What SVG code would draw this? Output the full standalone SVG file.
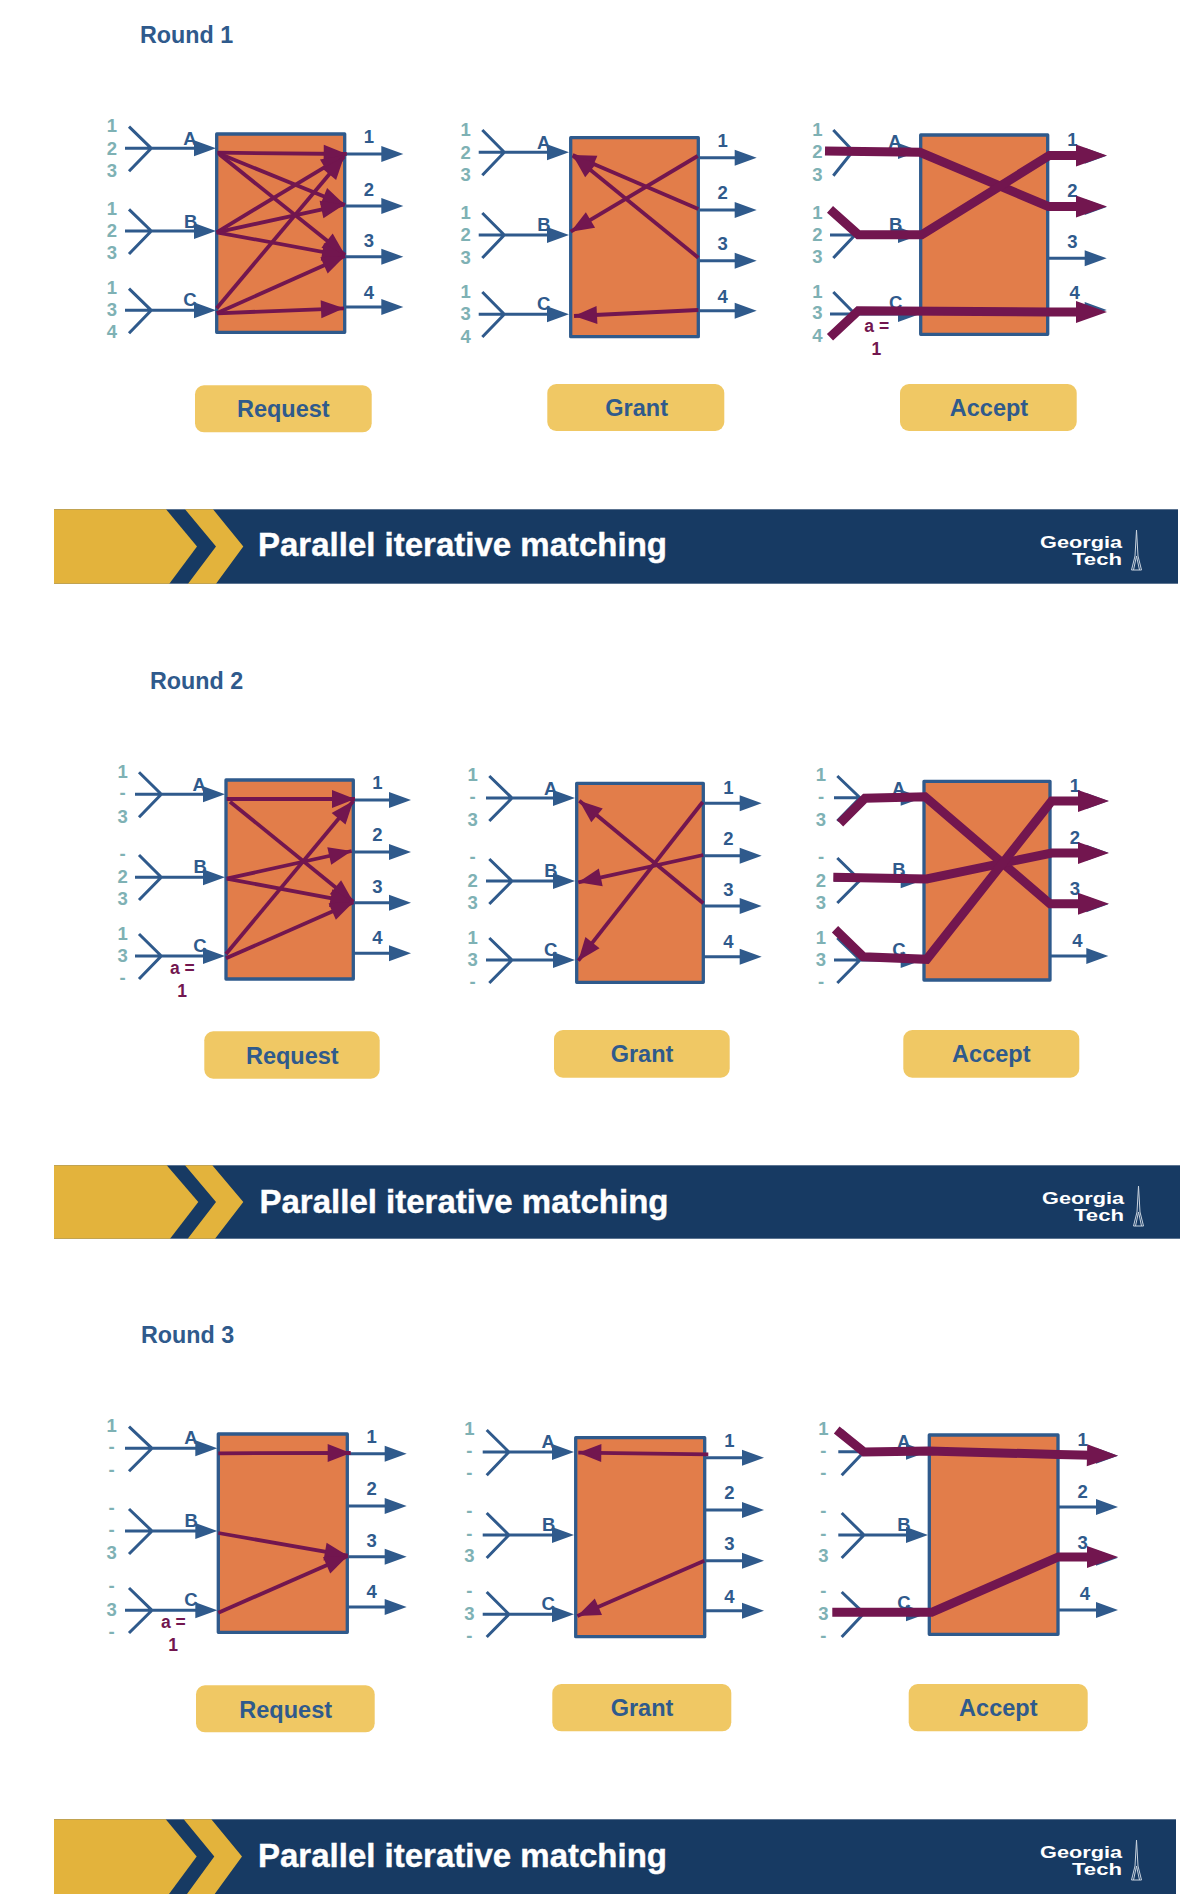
<svg xmlns="http://www.w3.org/2000/svg" width="1204" height="1894" viewBox="0 0 1204 1894">
<style>
text{font-family:"Liberation Sans",Arial,sans-serif;font-weight:700}
.box{fill:#E27D4A;stroke:#2F5A8C;stroke-width:3.3;stroke-linejoin:round}
.btn{fill:#F0C864}
.bl{fill:#2F5A8C;font-size:18.5px;text-anchor:middle}
.te{fill:#7EB1B4;font-size:18.5px;text-anchor:middle}
.pu{fill:#72164F;font-size:17.5px;text-anchor:middle}
.bt{fill:#2F5A8C;font-size:23.5px;text-anchor:middle}
.ti{fill:#2F5A8C;font-size:23.3px}
.bn{fill:#173A63}
.gd{fill:#E3B33C}
.ht{fill:#fff;stroke:#fff;stroke-width:.4;font-size:33px}
.lg{fill:#fff;font-size:17px}
.tw{fill:none;stroke:#C9D3DF;stroke-width:1}
.wa{fill:none;stroke:#2F5A8C;stroke-width:3;marker-end:url(#mb)}
.p{fill:none;stroke:#72164F;stroke-width:3.8;marker-end:url(#mp)}
.k{fill:none;stroke:#72164F;stroke-width:9;stroke-linejoin:miter;marker-end:url(#mk)}
</style>
<defs>
<marker id="mb" markerUnits="userSpaceOnUse" markerWidth="24" markerHeight="18" refX="16" refY="8" orient="auto" overflow="visible"><path d="M0 0L22 8L0 16z" fill="#2F5A8C"/></marker>
<marker id="mp" markerUnits="userSpaceOnUse" markerWidth="24" markerHeight="18" refX="23" refY="9" orient="auto" overflow="visible"><path d="M0 0L23 9L0 18z" fill="#72164F"/></marker>
<marker id="mk" markerUnits="userSpaceOnUse" markerWidth="32" markerHeight="22" refX="15" refY="11" orient="auto" overflow="visible"><path d="M0 0L31 11L0 22z" fill="#72164F"/></marker>
</defs>
<rect width="1204" height="1894" fill="#fff"/>

<g id="title-round-1"><text class="ti" x="140" y="43.3">Round 1</text></g>
<g id="title-round-2"><text class="ti" x="150" y="689.3">Round 2</text></g>
<g id="title-round-3"><text class="ti" x="141" y="1343.3">Round 3</text></g>

<g id="r1-request">
<rect class="box" x="216.7" y="134" width="128" height="198.3"/>
<text class="te" x="112" y="131.6">1</text><text class="te" x="112" y="154.6">2</text><text class="te" x="112" y="176.6">3</text>
<text class="te" x="112" y="214.6">1</text><text class="te" x="112" y="236.6">2</text><text class="te" x="112" y="258.6">3</text>
<text class="te" x="112" y="293.6">1</text><text class="te" x="112" y="315.6">3</text><text class="te" x="112" y="337.6">4</text>
<text class="bl" x="190" y="144.6">A</text><text class="bl" x="190.7" y="227.6">B</text><text class="bl" x="190" y="305.6">C</text>
<text class="bl" x="369" y="143.3">1</text><text class="bl" x="369" y="195.6">2</text><text class="bl" x="369" y="246.6">3</text><text class="bl" x="369" y="298.6">4</text>
</g>
<g id="r1-request-button"><rect class="btn" x="195" y="385.3" width="176.7" height="47" rx="9"/><text class="bt" x="283.3" y="417.3">Request</text></g>

<g id="r1-grant">
<rect class="box" x="570.7" y="137.7" width="127.6" height="199"/>
<text class="te" x="465.7" y="136.3">1</text><text class="te" x="465.7" y="158.6">2</text><text class="te" x="465.7" y="180.9">3</text>
<text class="te" x="465.7" y="218.9">1</text><text class="te" x="465.7" y="241.3">2</text><text class="te" x="465.7" y="263.6">3</text>
<text class="te" x="465.7" y="297.9">1</text><text class="te" x="465.7" y="319.9">3</text><text class="te" x="465.7" y="342.6">4</text>
<text class="bl" x="543.7" y="148.9">A</text><text class="bl" x="544" y="230.9">B</text><text class="bl" x="543.7" y="310.3">C</text>
<text class="bl" x="722.7" y="147.3">1</text><text class="bl" x="722.7" y="199.3">2</text><text class="bl" x="722.7" y="250.3">3</text><text class="bl" x="722.7" y="302.6">4</text>
</g>
<g id="r1-grant-button"><rect class="btn" x="547.3" y="384" width="177" height="47" rx="9"/><text class="bt" x="636.7" y="416">Grant</text></g>

<g id="r1-accept">
<rect class="box" x="920.7" y="135" width="127" height="199.3"/>
<text class="te" x="817.3" y="135.9">1</text><text class="te" x="817.3" y="158.3">2</text><text class="te" x="817.3" y="180.6">3</text>
<text class="te" x="817.3" y="218.6">1</text><text class="te" x="817.3" y="240.9">2</text><text class="te" x="817.3" y="263.3">3</text>
<text class="te" x="817.3" y="297.6">1</text><text class="te" x="817.3" y="319.3">3</text><text class="te" x="817.3" y="342.3">4</text>
<text class="bl" x="895" y="148.3">A</text><text class="bl" x="895.7" y="230.6">B</text><text class="bl" x="895.7" y="309.3">C</text>
<text class="bl" x="1072.3" y="145.6">1</text><text class="bl" x="1072.3" y="197.3">2</text><text class="bl" x="1072.3" y="248.3">3</text><text class="bl" x="1074.7" y="299.3">4</text>
<text class="pu" x="876.7" y="331.7">a =</text><text class="pu" x="876.3" y="354.6">1</text>
</g>
<g id="r1-accept-button"><rect class="btn" x="900" y="384" width="176.7" height="47" rx="9"/><text class="bt" x="989" y="416">Accept</text></g>

<g id="banner-1">
<rect class="bn" x="54" y="509.3" width="1124" height="74.4"/>
<path class="gd" d="M54 509.3H166L197 546.5L169.3 583.7H54z"/>
<path class="gd" d="M185 509.3H213L243.3 546.5L216 583.7H188L216 546.5z"/>
<text class="ht" x="258" y="556">Parallel iterative matching</text>
<text class="lg" x="1040" y="547.5" textLength="82" lengthAdjust="spacingAndGlyphs">Georgia</text><text class="lg" x="1072" y="565" textLength="50" lengthAdjust="spacingAndGlyphs">Tech</text>
<path class="tw" d="M1136.5 530L1135 556L1131.5 570H1141.5L1138 556zM1133.5 570L1136.5 556L1139.5 570"/>
</g>

<g id="r2-request">
<rect class="box" x="226" y="780" width="127.3" height="199"/>
<text class="te" x="122.7" y="777.9">1</text><text class="te" x="122.7" y="799.3">-</text><text class="te" x="122.7" y="822.6">3</text>
<text class="te" x="122.7" y="860">-</text><text class="te" x="122.7" y="883.3">2</text><text class="te" x="122.7" y="905.3">3</text>
<text class="te" x="122.7" y="939.6">1</text><text class="te" x="122.7" y="961.6">3</text><text class="te" x="122.7" y="984">-</text>
<text class="bl" x="199.3" y="790.9">A</text><text class="bl" x="200.3" y="873.3">B</text><text class="bl" x="200" y="952.3">C</text>
<text class="bl" x="377.3" y="789.3">1</text><text class="bl" x="377.3" y="840.9">2</text><text class="bl" x="377.3" y="893.3">3</text><text class="bl" x="377.3" y="944.3">4</text>
<text class="pu" x="182.3" y="973.7">a =</text><text class="pu" x="182" y="996.9">1</text>
</g>
<g id="r2-request-button"><rect class="btn" x="204.3" y="1031.3" width="175.4" height="47.4" rx="9"/><text class="bt" x="292.3" y="1063.7">Request</text></g>

<g id="r2-grant">
<rect class="box" x="576.7" y="783.3" width="126.6" height="199"/>
<text class="te" x="472.7" y="780.9">1</text><text class="te" x="472.7" y="802.7">-</text><text class="te" x="472.7" y="825.9">3</text>
<text class="te" x="472.7" y="863">-</text><text class="te" x="472.7" y="886.6">2</text><text class="te" x="472.7" y="908.6">3</text>
<text class="te" x="472.7" y="943.6">1</text><text class="te" x="472.7" y="965.9">3</text><text class="te" x="472.7" y="987.7">-</text>
<text class="bl" x="550.7" y="794.6">A</text><text class="bl" x="551" y="876.9">B</text><text class="bl" x="550.7" y="955.9">C</text>
<text class="bl" x="728.3" y="793.6">1</text><text class="bl" x="728.3" y="845.3">2</text><text class="bl" x="728.3" y="896.3">3</text><text class="bl" x="728.3" y="948.3">4</text>
</g>
<g id="r2-grant-button"><rect class="btn" x="554" y="1030" width="175.7" height="47.7" rx="9"/><text class="bt" x="642" y="1061.7">Grant</text></g>

<g id="r2-accept">
<rect class="box" x="924" y="781.3" width="126" height="198.7"/>
<text class="te" x="821" y="780.9">1</text><text class="te" x="821" y="802.7">-</text><text class="te" x="821" y="825.9">3</text>
<text class="te" x="821" y="863">-</text><text class="te" x="821" y="886.6">2</text><text class="te" x="821" y="908.6">3</text>
<text class="te" x="821" y="943.6">1</text><text class="te" x="821" y="965.9">3</text><text class="te" x="821" y="987.7">-</text>
<text class="bl" x="898.7" y="794.9">A</text><text class="bl" x="899" y="875.9">B</text><text class="bl" x="899" y="955.9">C</text>
<text class="bl" x="1075" y="792.3">1</text><text class="bl" x="1075" y="843.6">2</text><text class="bl" x="1075" y="894.6">3</text><text class="bl" x="1077.3" y="946.6">4</text>
</g>
<g id="r2-accept-button"><rect class="btn" x="903.3" y="1030" width="176" height="47.7" rx="9"/><text class="bt" x="991.3" y="1061.7">Accept</text></g>

<g id="banner-2">
<rect class="bn" x="54" y="1165.3" width="1126" height="73.4"/>
<path class="gd" d="M54 1165.3H166.7L198.3 1202L170 1238.7H54z"/>
<path class="gd" d="M185 1165.3H212.3L243.3 1202L215 1238.7H187.7L216 1202z"/>
<text class="ht" x="259.5" y="1212.7">Parallel iterative matching</text>
<text class="lg" x="1042" y="1203.5" textLength="82" lengthAdjust="spacingAndGlyphs">Georgia</text><text class="lg" x="1074" y="1221" textLength="50" lengthAdjust="spacingAndGlyphs">Tech</text>
<path class="tw" d="M1138.5 1186L1137 1212L1133.5 1226H1143.5L1140 1212zM1135.5 1226L1138.5 1212L1141.5 1226"/>
</g>

<g id="r3-request">
<rect class="box" x="218.3" y="1434" width="129" height="198.3"/>
<text class="te" x="111.7" y="1431.9">1</text><text class="te" x="111.7" y="1453.3">-</text><text class="te" x="111.7" y="1476">-</text>
<text class="te" x="111.7" y="1514">-</text><text class="te" x="111.7" y="1536.3">-</text><text class="te" x="111.7" y="1559.3">3</text>
<text class="te" x="111.7" y="1592.3">-</text><text class="te" x="111.7" y="1615.6">3</text><text class="te" x="111.7" y="1637.7">-</text>
<text class="bl" x="191" y="1444.3">A</text><text class="bl" x="191.3" y="1526.6">B</text><text class="bl" x="191" y="1605.9">C</text>
<text class="bl" x="371.7" y="1443.3">1</text><text class="bl" x="371.7" y="1494.9">2</text><text class="bl" x="371.7" y="1546.9">3</text><text class="bl" x="371.7" y="1598.3">4</text>
<text class="pu" x="173.3" y="1627.7">a =</text><text class="pu" x="173" y="1650.6">1</text>
</g>
<g id="r3-request-button"><rect class="btn" x="196" y="1685.3" width="178.7" height="47" rx="9"/><text class="bt" x="285.7" y="1717.7">Request</text></g>

<g id="r3-grant">
<rect class="box" x="575.7" y="1437.7" width="129" height="199"/>
<text class="te" x="469.3" y="1435.3">1</text><text class="te" x="469.3" y="1456.7">-</text><text class="te" x="469.3" y="1479">-</text>
<text class="te" x="469.3" y="1517">-</text><text class="te" x="469.3" y="1539.7">-</text><text class="te" x="469.3" y="1562.3">3</text>
<text class="te" x="469.3" y="1596.7">-</text><text class="te" x="469.3" y="1619.9">3</text><text class="te" x="469.3" y="1641.7">-</text>
<text class="bl" x="548.3" y="1448.3">A</text><text class="bl" x="548.7" y="1530.9">B</text><text class="bl" x="548.3" y="1609.9">C</text>
<text class="bl" x="729.3" y="1447.3">1</text><text class="bl" x="729.3" y="1499.3">2</text><text class="bl" x="729.3" y="1550.3">3</text><text class="bl" x="729.3" y="1602.6">4</text>
</g>
<g id="r3-grant-button"><rect class="btn" x="552.3" y="1684" width="179" height="47.3" rx="9"/><text class="bt" x="642" y="1715.7">Grant</text></g>

<g id="r3-accept">
<rect class="box" x="929.3" y="1435" width="128.7" height="199.3"/>
<text class="te" x="823.3" y="1435.3">1</text><text class="te" x="823.3" y="1456.7">-</text><text class="te" x="823.3" y="1479">-</text>
<text class="te" x="823.3" y="1517">-</text><text class="te" x="823.3" y="1539.7">-</text><text class="te" x="823.3" y="1562.3">3</text>
<text class="te" x="823.3" y="1596.7">-</text><text class="te" x="823.3" y="1619.9">3</text><text class="te" x="823.3" y="1641.7">-</text>
<text class="bl" x="903.7" y="1448.3">A</text><text class="bl" x="904" y="1530.9">B</text><text class="bl" x="904" y="1609.3">C</text>
<text class="bl" x="1082.7" y="1445.6">1</text><text class="bl" x="1082.7" y="1497.6">2</text><text class="bl" x="1082.7" y="1548.6">3</text><text class="bl" x="1085" y="1599.6">4</text>
</g>
<g id="r3-accept-button"><rect class="btn" x="908.7" y="1684" width="179" height="47.3" rx="9"/><text class="bt" x="998.3" y="1715.7">Accept</text></g>

<g id="banner-3">
<rect class="bn" x="54" y="1819.3" width="1122" height="74.7"/>
<path class="gd" d="M54 1819.3H165.7L196.7 1856.5L169 1894H54z"/>
<path class="gd" d="M183.7 1819.3H211.3L242 1856.5L214.7 1894H187L214.3 1856.5z"/>
<text class="ht" x="258" y="1866.7">Parallel iterative matching</text>
<text class="lg" x="1040" y="1857.5" textLength="82" lengthAdjust="spacingAndGlyphs">Georgia</text><text class="lg" x="1072" y="1875" textLength="50" lengthAdjust="spacingAndGlyphs">Tech</text>
<path class="tw" d="M1136.5 1840L1135 1866L1131.5 1880H1141.5L1138 1866zM1133.5 1880L1136.5 1866L1139.5 1880"/>
</g>

<g id="connectors">
<g id="r1-request-wires">
<path class="wa" d="M129 126.7L151.3 148.3L129 171.3M125 148.3H210"/>
<path class="wa" d="M129 209.4L151.3 231L129 254M125 231H210"/>
<path class="wa" d="M129 288.7L151.3 310.3L129 333.3M125 310.3H210"/>
<path class="wa" d="M344.5 154H397.3"/><path class="wa" d="M344.5 206H397.3"/><path class="wa" d="M344.5 256.7H397.3"/><path class="wa" d="M344.5 307H397.3"/>
<path class="p" d="M217.3 152.7L346.7 154"/><path class="p" d="M218.3 153.3L345 205"/><path class="p" d="M219.3 154.3L345 255"/>
<path class="p" d="M216.7 232.3L344.3 155.3"/><path class="p" d="M216.7 232.3L344 204.7"/><path class="p" d="M216.7 232.3L345 256"/>
<path class="p" d="M216.7 308.3L344 156.7"/><path class="p" d="M216.7 313.3L345 256"/><path class="p" d="M217.3 313.3L344 308.3"/>
</g>
<g id="r1-grant-wires">
<path class="wa" d="M482.3 130L504.3 152.3L482.3 175.3M478.7 152.3H563"/>
<path class="wa" d="M482.3 213L504.3 235L482.3 258M478.7 235H563"/>
<path class="wa" d="M482.3 292L504.3 314.3L482.3 337M478.7 314.3H563"/>
<path class="wa" d="M698 157.7H750.7"/><path class="wa" d="M698 210H750.7"/><path class="wa" d="M698 260.7H750.7"/><path class="wa" d="M698 310.7H750.7"/>
<path class="p" d="M697.7 156L570.7 231.7"/><path class="p" d="M698.3 209L572.7 155"/><path class="p" d="M698.3 257.7L573 155.7"/><path class="p" d="M698.3 310L574 316"/>
</g>
<g id="r1-accept-wires">
<path class="wa" d="M833.3 130L853 151L833.3 175.7M830 151H914"/>
<path class="wa" d="M833.3 213L855 235L833.3 258M830 235H914"/>
<path class="wa" d="M833.3 292L855 314L833.3 337M830 314H914"/>
<path class="wa" d="M1047.5 155.7H1100.7"/><path class="wa" d="M1047.5 207H1100.7"/><path class="wa" d="M1047.5 258.3H1100.7"/><path class="wa" d="M1047.5 310H1100.7"/>
<path class="k" d="M825 151L920 152.3L1048.3 206.5H1091"/>
<path class="k" d="M830 209.3L858.3 234.7H921.7L1049.3 155.5H1091"/>
<path class="k" d="M830 337.3L858.3 310.7L1048 312H1091"/>
</g>
<g id="r2-request-wires">
<path class="wa" d="M139 772.3L161.3 794.3L139 817.3M135 794.3H219"/>
<path class="wa" d="M139 855L161.3 877.3L139 900M135 877.3H219"/>
<path class="wa" d="M139 934L161.3 956L139 979M135 956H219"/>
<path class="wa" d="M353 800H405"/><path class="wa" d="M353 852H405"/><path class="wa" d="M353 902.7H405"/><path class="wa" d="M353 953.3H405"/>
<path class="p" d="M226.7 799H355"/><path class="p" d="M230 801.7L353.3 901.7"/>
<path class="p" d="M226.7 878.7L351.7 851"/><path class="p" d="M226.7 878.7L353.3 902.3"/>
<path class="p" d="M226 954L353.3 801"/><path class="p" d="M226 958.3L353.3 902.3"/>
</g>
<g id="r2-grant-wires">
<path class="wa" d="M489.3 776L512 798L489.3 821M486 798H569"/>
<path class="wa" d="M489.3 859L512 881L489.3 904M486 881H569"/>
<path class="wa" d="M489.3 938L512 960L489.3 983M486 960H569"/>
<path class="wa" d="M703 803.3H755.7"/><path class="wa" d="M703 855.7H755.7"/><path class="wa" d="M703 906H755.7"/><path class="wa" d="M703 956.7H755.7"/>
<path class="p" d="M702.7 802L578.3 960.7"/><path class="p" d="M703.3 855L578.3 882.3"/><path class="p" d="M703.3 903.3L579.3 800.7"/>
</g>
<g id="r2-accept-wires">
<path class="wa" d="M837.3 776L860 797.7L837.3 821M834 797.7H916.7"/>
<path class="wa" d="M837.3 858L860 880.3L837.3 903M834 880.3H916.7"/>
<path class="wa" d="M837.3 938L860 960L837.3 983M834 960H916.7"/>
<path class="wa" d="M1050 801H1102.3"/><path class="wa" d="M1050 852.7H1102.3"/><path class="wa" d="M1050 904.3H1102.3"/><path class="wa" d="M1050 956H1102.3"/>
<path class="k" d="M840 823.3L865 798.3L925 796.7L1050 903.8H1093"/>
<path class="k" d="M833.3 877.3L926.7 879L1051.7 853H1093"/>
<path class="k" d="M835 929.3L863.3 956.7L926.7 959.3L1051.7 801H1093"/>
</g>
<g id="r3-request-wires">
<path class="wa" d="M129 1426.7L152 1448.3L129 1471.3M125 1448.3H211.3"/>
<path class="wa" d="M129 1509L152 1531L129 1554M125 1531H211.3"/>
<path class="wa" d="M129 1588L152 1610.3L129 1633M125 1610.3H211.3"/>
<path class="wa" d="M347 1453.7H400.7"/><path class="wa" d="M347 1506H400.7"/><path class="wa" d="M347 1556.7H400.7"/><path class="wa" d="M347 1607H400.7"/>
<path class="p" d="M218.3 1453.3L350.7 1453"/><path class="p" d="M218.3 1533L347.7 1555.7"/><path class="p" d="M218.3 1612.7L347.7 1556"/>
</g>
<g id="r3-grant-wires">
<path class="wa" d="M486.7 1430L509 1452L486.7 1475.3M482.7 1452H568"/>
<path class="wa" d="M486.7 1513L509 1535L486.7 1558M482.7 1535H568"/>
<path class="wa" d="M486.7 1592L509 1614.3L486.7 1637M482.7 1614.3H568"/>
<path class="wa" d="M704.5 1457.7H758"/><path class="wa" d="M704.5 1510H758"/><path class="wa" d="M704.5 1560.7H758"/><path class="wa" d="M704.5 1610.7H758"/>
<path class="p" d="M708.3 1454.3L578.3 1452.7"/><path class="p" d="M704.3 1560.7L577.3 1616"/>
</g>
<g id="r3-accept-wires">
<path class="wa" d="M841.7 1430L864 1451.7L841.7 1475.3M838.3 1451.7H922"/>
<path class="wa" d="M841.7 1513L864 1535L841.7 1558M838.3 1535H922"/>
<path class="wa" d="M841.7 1592L864 1613.3L841.7 1637M838.3 1613.3H922"/>
<path class="wa" d="M1058 1455.7H1112"/><path class="wa" d="M1058 1507H1112"/><path class="wa" d="M1058 1557.7H1112"/><path class="wa" d="M1058 1610H1112"/>
<path class="k" d="M836.7 1430L864 1452L928.3 1451L1058 1454.5L1102 1455.5"/>
<path class="k" d="M832.3 1612.3H931.7L1058.3 1557H1102"/>
</g>
</g>
</svg>
